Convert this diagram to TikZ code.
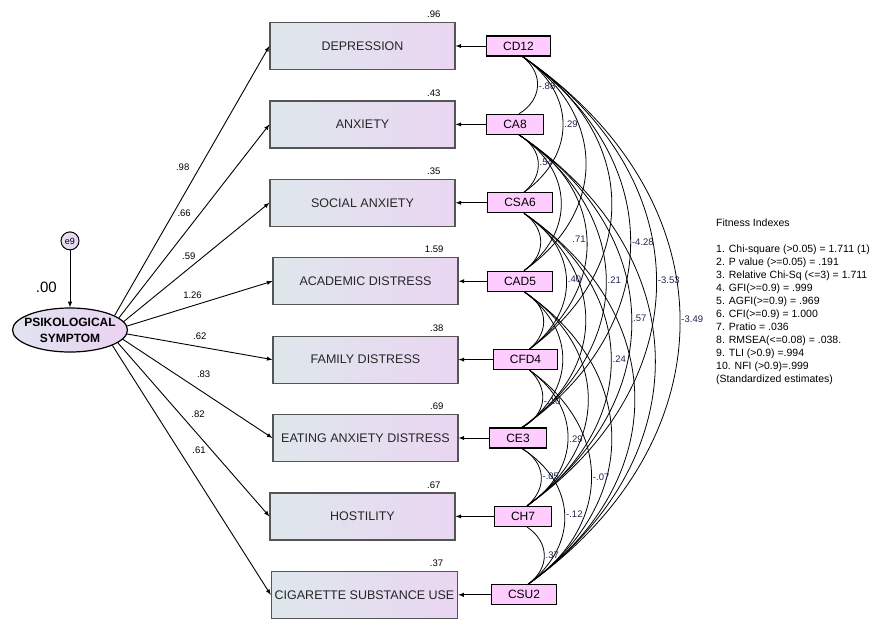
\documentclass[tikz,border=0pt]{standalone}
\usepackage{fontspec}
\setmainfont{Liberation Sans}
\usetikzlibrary{positioning,shapes.geometric}
\tikzset{>=latex}
\definecolor{boxleft}{RGB}{222,231,236}
\definecolor{boxright}{RGB}{234,214,242}
\definecolor{ellleft}{RGB}{224,228,240}
\definecolor{ellright}{RGB}{234,210,242}
\definecolor{pinkfill}{RGB}{255,204,255}
\definecolor{boxline}{RGB}{85,85,85}
\definecolor{covtext}{RGB}{30,40,80}
\tikzset{
  bigbox/.style={rectangle, draw=boxline, line width=1.2pt, left color=boxleft, right color=boxright,
    minimum width=185pt, minimum height=47pt, text=black!85, font=\fontsize{12.5}{14}\selectfont},
  smallbox/.style={rectangle, draw=black, line width=1.1pt, fill=pinkfill, minimum height=20pt,
    inner xsep=16.5pt, inner ysep=0pt, font=\fontsize{12}{14}\selectfont},
  r2/.style={font=\fontsize{9.5}{11}\selectfont, anchor=south east, inner sep=0pt, xshift=-15pt, yshift=4pt},
  lbl/.style={font=\fontsize{9.5}{11}\selectfont, inner sep=1pt},
  covlbl/.style={font=\fontsize{9.5}{11}\selectfont, text=covtext, inner sep=1pt, anchor=west},
  cov/.style={line width=0.8pt, bend left=55, looseness=1.22},
  errc/.style={circle, draw, line width=1pt, left color=ellleft, right color=ellright, minimum size=18pt,
    inner sep=0pt, font=\fontsize{9}{10}\selectfont},
}
\begin{document}
\begin{tikzpicture}
  \useasboundingbox[fill=white] (0,0) rectangle (875pt,-619pt);
  % latent variable
  \node[ellipse, draw, line width=1.2pt, left color=ellleft, right color=ellright, minimum width=115pt,
    minimum height=44pt, inner xsep=-6pt, inner ysep=2pt, align=center,
    font=\bfseries\fontsize{12}{16}\selectfont] (ell) at (70pt,-330pt) {PSIKOLOGICAL\\SYMPTOM};
  \node[errc, above=57pt of ell] (e9) {e9};
  \node[font=\fontsize{15}{16}\selectfont, inner sep=0pt, above left=15pt and 13pt of ell.north] (r0) {.00};
  \draw[->, line width=1pt] (e9) -- (ell);

  % observed variables
  \node[bigbox, label={[r2]north east:.96}] (dep) at (362.5pt,-46pt) {DEPRESSION};
  \node[bigbox, below of=dep, node distance=78.4pt, label={[r2]north east:.43}] (anx) {ANXIETY};
  \node[bigbox, below of=anx, node distance=78.4pt, label={[r2]north east:.35}] (soc) {SOCIAL ANXIETY};
  \node[bigbox, below of=soc, node distance=78.4pt, xshift=3pt, label={[r2]north east:1.59}] (aca) {ACADEMIC DISTRESS};
  \node[bigbox, below of=aca, node distance=78.4pt, label={[r2]north east:.38}] (fam) {FAMILY DISTRESS};
  \node[bigbox, below of=fam, node distance=78.4pt, label={[r2]north east:.69}] (eat) {EATING ANXIETY DISTRESS};
  \node[bigbox, below of=eat, node distance=78.4pt, xshift=-3pt, label={[r2]north east:.67}] (hos) {HOSTILITY};
  \node[bigbox, below of=hos, node distance=78.4pt, xshift=2pt, label={[r2]north east:.37}] (cig) {CIGARETTE SUBSTANCE USE};

  % covariates
  \node[smallbox, right of=dep, node distance=156pt] (cd12) {CD12};
  \node[smallbox, right of=anx, node distance=152.5pt] (ca8) {CA8};
  \node[smallbox, right of=soc, node distance=157.5pt] (csa6) {CSA6};
  \node[smallbox, right of=aca, node distance=154.5pt] (cad5) {CAD5};
  \node[smallbox, right of=fam, node distance=160pt] (cfd4) {CFD4};
  \node[smallbox, right of=eat, node distance=152.5pt] (ce3) {CE3};
  \node[smallbox, right of=hos, node distance=160.5pt] (ch7) {CH7};
  \node[smallbox, right of=cig, node distance=159.5pt] (csu2) {CSU2};

  \draw[->, line width=0.9pt] (cd12) -- (cd12 -| dep.east);
  \draw[->, line width=0.9pt] (ca8) -- (ca8 -| anx.east);
  \draw[->, line width=0.9pt] (csa6) -- (csa6 -| soc.east);
  \draw[->, line width=0.9pt] (cad5) -- (cad5 -| aca.east);
  \draw[->, line width=0.9pt] (cfd4) -- (cfd4 -| fam.east);
  \draw[->, line width=0.9pt] (ce3) -- (ce3 -| eat.east);
  \draw[->, line width=0.9pt] (ch7) -- (ch7 -| hos.east);
  \draw[->, line width=0.9pt] (csu2) -- (csu2 -| cig.east);

  % loadings
  \draw[->, line width=0.9pt] (ell.18) -- node[lbl, pos=.55, left=9pt] {.98} (dep.west);
  \draw[->, line width=0.9pt] (ell.14) -- node[lbl, pos=.54, left=8pt] {.66} (anx.west);
  \draw[->, line width=0.9pt] (ell.9) -- node[lbl, pos=.55, left=7pt] {.59} (soc.west);
  \draw[->, line width=0.9pt] (ell.4) -- node[lbl, pos=.45, above=6pt] {1.26} (aca.west);
  \draw[->, line width=0.9pt] (ell.-4) -- node[lbl, pos=.5, above=6pt] {.62} (fam.west);
  \draw[->, line width=0.9pt] (ell.-10) -- node[lbl, pos=.54, above=14pt] {.83} (eat.west);
  \draw[->, line width=0.9pt] (ell.-15) -- node[lbl, pos=.41, right=10pt] {.82} (hos.west);
  \draw[->, line width=0.9pt] (ell.-20) -- node[lbl, pos=.42, right=12pt] {.61} (cig.west);

  % covariances
  \draw[cov] ([xshift=4pt]cd12.south) to node[covlbl] {-.88} ([xshift=4pt]ca8.north);
  \draw[cov] ([xshift=4pt]cd12.south) to node[covlbl] {.29} ([xshift=4pt]csa6.north);
  \draw[cov] ([xshift=4pt]cd12.south) to ([xshift=4pt]cad5.north);
  \draw[cov] ([xshift=4pt]cd12.south) to ([xshift=4pt]cfd4.north);
  \draw[cov] ([xshift=4pt]cd12.south) to node[covlbl] {-4.28} ([xshift=4pt]ce3.north);
  \draw[cov] ([xshift=4pt]cd12.south) to node[covlbl] {-3.53} ([xshift=4pt]ch7.north);
  \draw[cov] ([xshift=4pt]cd12.south) to node[covlbl] {-3.49} ([xshift=4pt]csu2.north);
  \draw[cov] ([xshift=4pt]ca8.south) to node[covlbl] {.54} ([xshift=4pt]csa6.north);
  \draw[cov] ([xshift=4pt]ca8.south) to ([xshift=4pt]cad5.north);
  \draw[cov] ([xshift=4pt]ca8.south) to node[covlbl, anchor=east] {.71} ([xshift=4pt]cfd4.north);
  \draw[cov] ([xshift=4pt]ca8.south) to node[covlbl] {.21} ([xshift=4pt]ce3.north);
  \draw[cov] ([xshift=4pt]ca8.south) to node[covlbl] {.57} ([xshift=4pt]ch7.north);
  \draw[cov] ([xshift=4pt]ca8.south) to ([xshift=4pt]csu2.north);
  \draw[cov] ([xshift=4pt]csa6.south) to ([xshift=4pt]cad5.north);
  \draw[cov] ([xshift=4pt]csa6.south) to node[covlbl] {.40} ([xshift=4pt]cfd4.north);
  \draw[cov] ([xshift=4pt]csa6.south) to ([xshift=4pt]ce3.north);
  \draw[cov] ([xshift=4pt]csa6.south) to node[covlbl] {.24} ([xshift=4pt]ch7.north);
  \draw[cov] ([xshift=4pt]csa6.south) to ([xshift=4pt]csu2.north);
  \draw[cov] ([xshift=4pt]cad5.south) to ([xshift=4pt]cfd4.north);
  \draw[cov] ([xshift=4pt]cad5.south) to ([xshift=4pt]ce3.north);
  \draw[cov] ([xshift=4pt]cad5.south) to ([xshift=4pt]ch7.north);
  \draw[cov] ([xshift=4pt]cad5.south) to ([xshift=4pt]csu2.north);
  \draw[cov] ([xshift=4pt]cfd4.south) to node[covlbl] {-.10} ([xshift=4pt]ce3.north);
  \draw[cov] ([xshift=4pt]cfd4.south) to node[covlbl] {.29} ([xshift=4pt]ch7.north);
  \draw[cov] ([xshift=4pt]cfd4.south) to node[covlbl] {-.07} ([xshift=4pt]csu2.north);
  \draw[cov] ([xshift=4pt]ce3.south) to node[covlbl] {-.05} ([xshift=4pt]ch7.north);
  \draw[cov] ([xshift=4pt]ce3.south) to node[covlbl] {-.12} ([xshift=4pt]csu2.north);
  \draw[cov] ([xshift=4pt]ch7.south) to node[covlbl] {.37} ([xshift=4pt]csu2.north);

  % fit
  \node[anchor=north west, inner sep=0pt, align=left, font=\fontsize{10.5}{13}\selectfont] (fit) at (716pt,-219pt)
    {Fitness Indexes\\[13pt]
     1. Chi-square (>0.05) = 1.711 (1)\\
     2. P value (>=0.05) = .191\\
     3. Relative Chi-Sq (<=3) = 1.711\\
     4. GFI(>=0.9) = .999\\
     5. AGFI(>=0.9) = .969\\
     6. CFI(>=0.9) = 1.000\\
     7. Pratio = .036\\
     8. RMSEA(<=0.08) = .038.\\
     9. TLI (>0.9) =.994\\
     10. NFI (>0.9)=.999\\
     (Standardized estimates)};
\end{tikzpicture}
\end{document}
